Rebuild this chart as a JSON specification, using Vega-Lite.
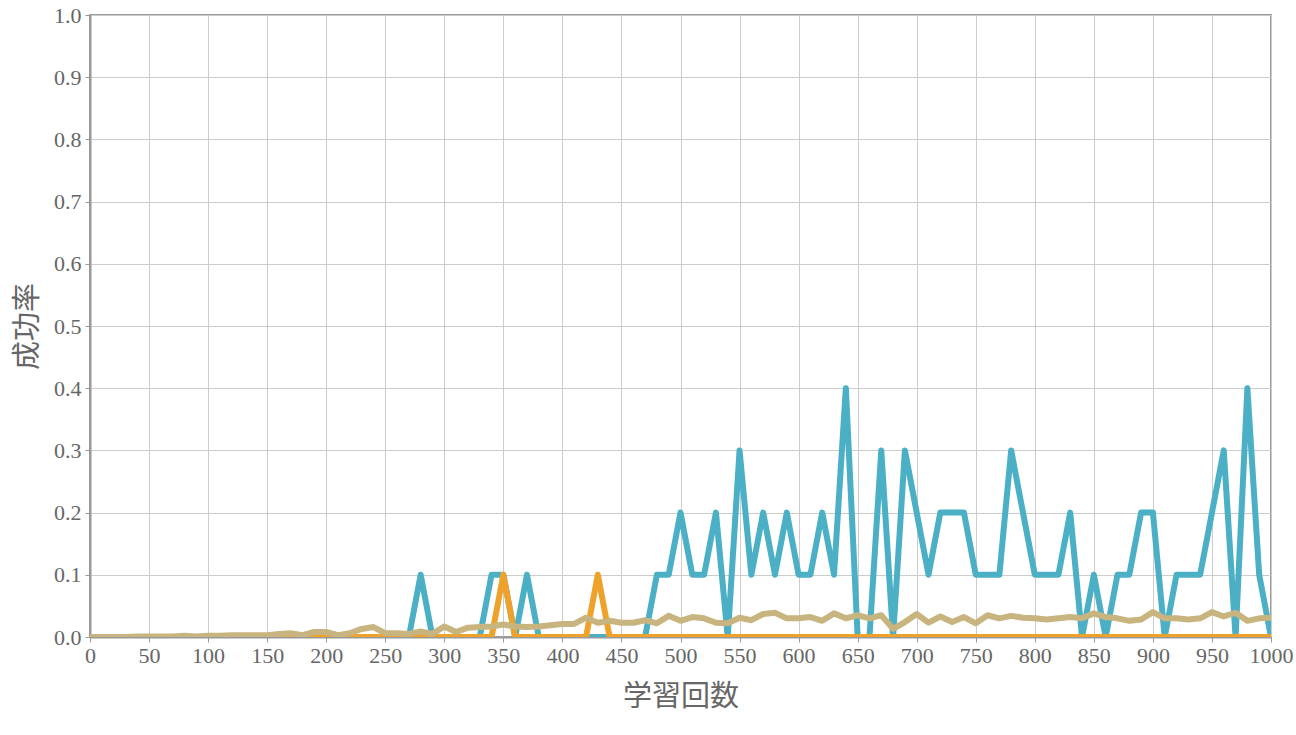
{
  "$schema": "https://vega.github.io/schema/vega-lite/v6.json",
  "autosize": "none",
  "width": 1181,
  "height": 622,
  "padding": {"left": 90, "top": 15, "right": 25, "bottom": 98},
  "background": "white",
  "config": {
    "view": {"stroke": "#9a9a9a", "strokeWidth": 2},
    "axis": {
      "labelFont": "Liberation Serif, DejaVu Serif, serif",
      "labelFontSize": 22,
      "labelColor": "#666666",
      "titleFont": "Noto Sans CJK JP",
      "titleFontSize": 29,
      "titleFontWeight": "normal",
      "titleColor": "#666666",
      "gridColor": "#cccccc",
      "gridWidth": 1,
      "domainColor": "#999999",
      "domainWidth": 2,
      "tickColor": "#999999",
      "tickSize": 5,
      "tickWidth": 1
    }
  },
  "data": {"values": [
    {"s":0,"a":0,"b":0,"c":0},{"s":10,"a":0,"b":0,"c":0},{"s":20,"a":0,"b":0,"c":0},{"s":30,"a":0,"b":0,"c":0},
    {"s":40,"a":0,"b":0,"c":0.001},{"s":50,"a":0,"b":0,"c":0.001},{"s":60,"a":0,"b":0,"c":0.001},{"s":70,"a":0,"b":0,"c":0.001},
    {"s":80,"a":0,"b":0,"c":0.002},{"s":90,"a":0,"b":0,"c":0.001},{"s":100,"a":0,"b":0,"c":0.002},{"s":110,"a":0,"b":0,"c":0.002},
    {"s":120,"a":0,"b":0,"c":0.003},{"s":130,"a":0,"b":0,"c":0.003},{"s":140,"a":0,"b":0,"c":0.003},{"s":150,"a":0,"b":0,"c":0.003},
    {"s":160,"a":0,"b":0,"c":0.005},{"s":170,"a":0,"b":0,"c":0.006},{"s":180,"a":0,"b":0,"c":0.003},{"s":190,"a":0,"b":0,"c":0.008},
    {"s":200,"a":0,"b":0,"c":0.008},{"s":210,"a":0,"b":0,"c":0.003},{"s":220,"a":0,"b":0,"c":0.006},{"s":230,"a":0,"b":0,"c":0.013},
    {"s":240,"a":0,"b":0,"c":0.016},{"s":250,"a":0,"b":0,"c":0.006},{"s":260,"a":0,"b":0,"c":0.006},{"s":270,"a":0,"b":0,"c":0.005},
    {"s":280,"a":0.1,"b":0,"c":0.009},{"s":290,"a":0,"b":0,"c":0.005},{"s":300,"a":0,"b":0,"c":0.017},{"s":310,"a":0,"b":0,"c":0.008},
    {"s":320,"a":0,"b":0,"c":0.015},{"s":330,"a":0,"b":0,"c":0.016},{"s":340,"a":0.1,"b":0,"c":0.017},{"s":350,"a":0.1,"b":0.1,"c":0.02},
    {"s":360,"a":0,"b":0,"c":0.017},{"s":370,"a":0.1,"b":0,"c":0.016},{"s":380,"a":0,"b":0,"c":0.017},{"s":390,"a":0,"b":0,"c":0.019},
    {"s":400,"a":0,"b":0,"c":0.021},{"s":410,"a":0,"b":0,"c":0.021},{"s":420,"a":0,"b":0,"c":0.031},{"s":430,"a":0,"b":0.1,"c":0.023},
    {"s":440,"a":0,"b":0,"c":0.026},{"s":450,"a":0,"b":0,"c":0.023},{"s":460,"a":0,"b":0,"c":0.023},{"s":470,"a":0,"b":0,"c":0.027},
    {"s":480,"a":0.1,"b":0,"c":0.022},{"s":490,"a":0.1,"b":0,"c":0.034},{"s":500,"a":0.2,"b":0,"c":0.026},{"s":510,"a":0.1,"b":0,"c":0.032},
    {"s":520,"a":0.1,"b":0,"c":0.03},{"s":530,"a":0.2,"b":0,"c":0.023},{"s":540,"a":0,"b":0,"c":0.022},{"s":550,"a":0.3,"b":0,"c":0.031},
    {"s":560,"a":0.1,"b":0,"c":0.027},{"s":570,"a":0.2,"b":0,"c":0.037},{"s":580,"a":0.1,"b":0,"c":0.039},{"s":590,"a":0.2,"b":0,"c":0.03},
    {"s":600,"a":0.1,"b":0,"c":0.03},{"s":610,"a":0.1,"b":0,"c":0.032},{"s":620,"a":0.2,"b":0,"c":0.026},{"s":630,"a":0.1,"b":0,"c":0.038},
    {"s":640,"a":0.4,"b":0,"c":0.03},{"s":650,"a":0,"b":0,"c":0.035},{"s":660,"a":0,"b":0,"c":0.03},{"s":670,"a":0.3,"b":0,"c":0.035},
    {"s":680,"a":0,"b":0,"c":0.013},{"s":690,"a":0.3,"b":0,"c":0.024},{"s":700,"a":0.2,"b":0,"c":0.037},{"s":710,"a":0.1,"b":0,"c":0.023},
    {"s":720,"a":0.2,"b":0,"c":0.033},{"s":730,"a":0.2,"b":0,"c":0.024},{"s":740,"a":0.2,"b":0,"c":0.032},{"s":750,"a":0.1,"b":0,"c":0.022},
    {"s":760,"a":0.1,"b":0,"c":0.035},{"s":770,"a":0.1,"b":0,"c":0.03},{"s":780,"a":0.3,"b":0,"c":0.034},{"s":790,"a":0.2,"b":0,"c":0.031},
    {"s":800,"a":0.1,"b":0,"c":0.03},{"s":810,"a":0.1,"b":0,"c":0.028},{"s":820,"a":0.1,"b":0,"c":0.03},{"s":830,"a":0.2,"b":0,"c":0.032},
    {"s":840,"a":0,"b":0,"c":0.03},{"s":850,"a":0.1,"b":0,"c":0.038},{"s":860,"a":0,"b":0,"c":0.032},{"s":870,"a":0.1,"b":0,"c":0.03},
    {"s":880,"a":0.1,"b":0,"c":0.026},{"s":890,"a":0.2,"b":0,"c":0.028},{"s":900,"a":0.2,"b":0,"c":0.04},{"s":910,"a":0,"b":0,"c":0.03},
    {"s":920,"a":0.1,"b":0,"c":0.03},{"s":930,"a":0.1,"b":0,"c":0.028},{"s":940,"a":0.1,"b":0,"c":0.03},{"s":950,"a":0.2,"b":0,"c":0.04},
    {"s":960,"a":0.3,"b":0,"c":0.033},{"s":970,"a":0,"b":0,"c":0.039},{"s":980,"a":0.4,"b":0,"c":0.026},{"s":990,"a":0.1,"b":0,"c":0.03},
    {"s":1000,"a":0,"b":0,"c":0.031}
  ]},
  "encoding": {
    "x": {
      "field": "s", "type": "quantitative",
      "scale": {"domain": [0, 1000], "nice": false},
      "axis": {"values": [0,50,100,150,200,250,300,350,400,450,500,550,600,650,700,750,800,850,900,950,1000], "format": "d", "title": "学習回数", "titlePadding": 16, "labelPadding": 3, "labelFlush": false}
    }
  },
  "layer": [
    {
      "mark": {"type": "line", "color": "#4bb0c6", "strokeWidth": 6, "strokeJoin": "round", "clip": true},
      "encoding": {
        "y": {
          "field": "a", "type": "quantitative",
          "scale": {"domain": [0, 1], "nice": false},
          "axis": {"values": [0,0.1,0.2,0.3,0.4,0.5,0.6,0.7,0.8,0.9,1.0], "format": ".1f", "title": "成功率", "titlePadding": 11, "labelPadding": 4}
        }
      }
    },
    {
      "mark": {"type": "line", "color": "#eea22a", "strokeWidth": 6, "strokeJoin": "round", "clip": true},
      "encoding": {"y": {"field": "b", "type": "quantitative"}}
    },
    {
      "mark": {"type": "line", "color": "#c8b47e", "strokeWidth": 6, "strokeJoin": "round", "clip": true},
      "encoding": {"y": {"field": "c", "type": "quantitative"}}
    }
  ]
}
